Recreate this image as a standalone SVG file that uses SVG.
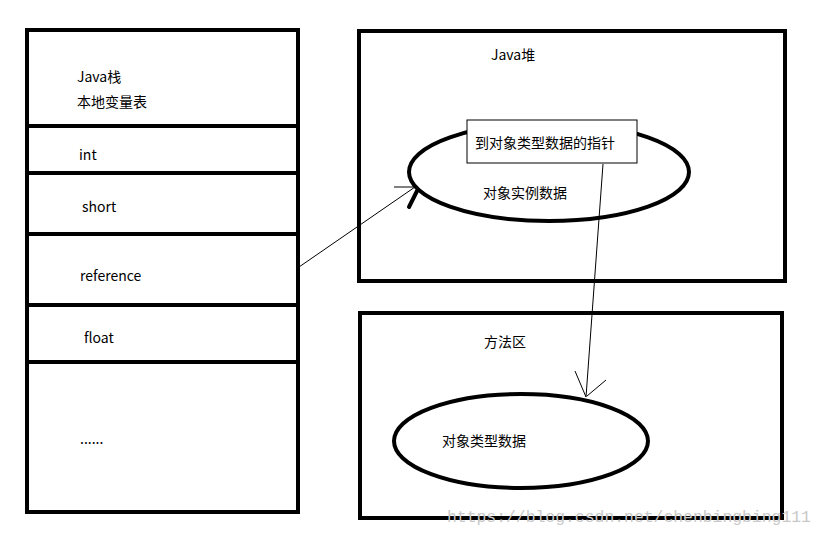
<svg xmlns="http://www.w3.org/2000/svg" width="828" height="534" viewBox="0 0 828 534">
<style>
.box{fill:none;stroke:#000;stroke-width:4}
.t{font-family:"Noto Sans CJK SC","Liberation Sans",sans-serif;font-size:14px;fill:#000}
.c{fill:none;stroke:#000;stroke-width:1}
</style>
<rect width="828" height="534" fill="#fff"/>
<g id="stack">
<rect class="box" x="27" y="30" width="271" height="482"/>
<line class="box" x1="27" y1="126" x2="298" y2="126"/>
<line class="box" x1="27" y1="173" x2="300" y2="173"/>
<line class="box" x1="27" y1="234" x2="298" y2="234"/>
<line class="box" x1="27" y1="305" x2="298" y2="305"/>
<line class="box" x1="27" y1="362" x2="298" y2="362"/>
<text class="t" x="77" y="82">Java栈</text>
<text class="t" x="77" y="107">本地变量表</text>
<text class="t" x="79" y="160">int</text>
<text class="t" x="82" y="212">short</text>
<text class="t" x="80" y="281">reference</text>
<text class="t" x="84" y="343">float</text>
<text class="t" x="80" y="444" fill="#1a4a5a">......</text>
</g>
<g id="heap">
<rect class="box" x="359" y="31" width="426" height="250"/>
<text class="t" x="491" y="60">Java堆</text>
<ellipse class="box" cx="549" cy="172" rx="140" ry="49"/>
<text class="t" x="483" y="198">对象实例数据</text>
<rect x="467" y="120" width="170" height="43" fill="#fff" stroke="#000" stroke-width="1"/>
<text class="t" x="475" y="148">到对象类型数据的指针</text>
</g>
<g id="method">
<rect class="box" x="360" y="313" width="422" height="205"/>
<text class="t" x="484" y="347">方法区</text>
<ellipse class="box" cx="521" cy="441" rx="127" ry="47"/>
<text class="t" x="442" y="446">对象类型数据</text>
</g>
<g id="connectors">
<line class="c" x1="299" y1="267" x2="415" y2="187"/>
<line class="c" x1="394" y1="187" x2="415" y2="187"/>
<line x1="409" y1="207" x2="417" y2="191" stroke="#000" stroke-width="4" stroke-linecap="round"/>
<line class="c" x1="603" y1="164" x2="586" y2="397"/>
<line class="c" x1="575" y1="371" x2="586" y2="397"/>
<line class="c" x1="606" y1="380" x2="587" y2="396"/>
</g>
<text x="447" y="522" font-family="Liberation Mono,monospace" font-size="16.4" fill="#c8c8c8">https://blog.csdn.net/chenbingbing111</text>
</svg>
